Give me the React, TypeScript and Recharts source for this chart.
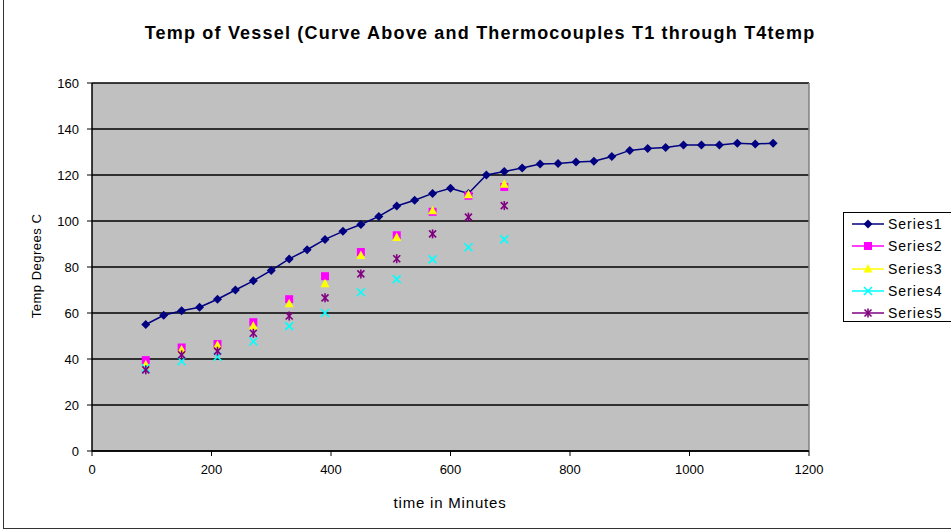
import React from 'react';
import {
  LineChart,
  Line,
  XAxis,
  YAxis,
  CartesianGrid,
  ReferenceLine,
} from 'recharts';

// minutes for the vessel curve (every 30 min)
const curveTimes = [
  90, 120, 150, 180, 210, 240, 270, 300, 330, 360, 390, 420, 450, 480, 510, 540, 570, 600,
  630, 660, 690, 720, 750, 780, 810, 840, 870, 900, 930, 960, 990, 1020, 1050, 1080, 1110, 1140,
];
const series1 = [
  55, 59, 61, 62.5, 66, 70, 74, 78.5, 83.5, 87.5, 92, 95.5, 98.5, 102, 106.5, 109, 112, 114.2,
  112, 120, 121.5, 123, 124.8, 125, 125.7, 126, 128, 130.7, 131.5, 132, 133, 133, 133, 133.8, 133.5, 133.8,
];

// thermocouple readings (every 60 min)
const tcTimes = [90, 150, 210, 270, 330, 390, 450, 510, 570, 630, 690];
const series2 = [39.5, 45, 46.5, 56, 66, 76, 86.5, 93.8, 104, 111, 114.8];
const series3 = [37.5, 44, 46, 54.3, 64, 72.7, 85, 92.8, 104.5, 111.4, 116];
const series4 = [36, 39, 41, 47.6, 54.3, 60, 69, 74.7, 83.3, 88.6, 92];
const series5 = [35.3, 41.8, 43.4, 51.2, 58.7, 66.6, 77, 83.6, 94.4, 101.7, 106.7];

const xTicks = [0, 200, 400, 600, 800, 1000, 1200];
const yTicks = [0, 20, 40, 60, 80, 100, 120, 140, 160];

const FONT = '"Liberation Sans", Arial, sans-serif';

const rows = curveTimes.map((t, i) => {
  const j = tcTimes.indexOf(t);
  return {
    x: t,
    s1: series1[i],
    s2: j >= 0 ? series2[j] : null,
    s3: j >= 0 ? series3[j] : null,
    s4: j >= 0 ? series4[j] : null,
    s5: j >= 0 ? series5[j] : null,
  };
});

type Kind = 'diamond' | 'square' | 'triangle' | 'x' | 'star';

const Marker = ({ kind, cx, cy, color }: { kind: Kind; cx: number; cy: number; color: string }) => {
  if (kind === 'diamond')
    return <polygon points={`${cx},${cy - 4.5} ${cx + 4.5},${cy} ${cx},${cy + 4.5} ${cx - 4.5},${cy}`} fill={color} />;
  if (kind === 'square') return <rect x={cx - 4} y={cy - 4} width={8} height={8} fill={color} />;
  if (kind === 'triangle')
    return <polygon points={`${cx},${cy - 5} ${cx + 4.5},${cy + 3.5} ${cx - 4.5},${cy + 3.5}`} fill={color} />;
  if (kind === 'x')
    return (
      <g stroke={color} strokeWidth={1.6}>
        <line x1={cx - 4} y1={cy - 4} x2={cx + 4} y2={cy + 4} />
        <line x1={cx - 4} y1={cy + 4} x2={cx + 4} y2={cy - 4} />
      </g>
    );
  return (
    <g stroke={color} strokeWidth={1.6}>
      <line x1={cx - 3.5} y1={cy - 3.5} x2={cx + 3.5} y2={cy + 3.5} />
      <line x1={cx - 3.5} y1={cy + 3.5} x2={cx + 3.5} y2={cy - 3.5} />
      <line x1={cx} y1={cy - 4.5} x2={cx} y2={cy + 4.5} />
    </g>
  );
};

const makeDot = (kind: Kind, color: string) => (props: any) => {
  const { cx, cy, value, index } = props;
  if (value === null || value === undefined || cy === null || cy === undefined || isNaN(cy))
    return <g key={`e-${index}`} />;
  return (
    <g key={`d-${index}`}>
      <Marker kind={kind} cx={cx} cy={cy} color={color} />
    </g>
  );
};

const legendItems: { name: string; kind: Kind; color: string }[] = [
  { name: 'Series1', kind: 'diamond', color: '#000080' },
  { name: 'Series2', kind: 'square', color: '#ff00ff' },
  { name: 'Series3', kind: 'triangle', color: '#ffff00' },
  { name: 'Series4', kind: 'x', color: '#00ffff' },
  { name: 'Series5', kind: 'star', color: '#800080' },
];

const LegendBox = () => (
  <div
    style={{
      position: 'absolute',
      left: 843,
      top: 212,
      width: 120,
      height: 110,
      border: '1px solid #000',
      background: '#fff',
      boxSizing: 'border-box',
    }}
  >
    {legendItems.map((it) => (
      <div key={it.name} style={{ height: 22.3, display: 'flex', alignItems: 'center' }}>
        <svg width={44} height={14}>
          <line x1={8} y1={7} x2={40} y2={7} stroke={it.color} strokeWidth={1.5} />
          <Marker kind={it.kind} cx={24} cy={7} color={it.color} />
        </svg>
        <span style={{ fontFamily: FONT, fontSize: 14, letterSpacing: 1, color: '#000' }}>{it.name}</span>
      </div>
    ))}
  </div>
);

export default function App() {
  return (
    <div style={{ position: 'absolute', left: 0, top: 0, width: 951, height: 531, background: '#fff', overflow: 'hidden' }}>
      {/* outer chart frame (cropped at top and right) */}
      <div
        style={{
          position: 'absolute',
          left: 3,
          top: -5,
          width: 960,
          height: 534,
          borderLeft: '1px solid #333',
          borderBottom: '1px solid #333',
          boxSizing: 'border-box',
        }}
      />
      <div
        style={{
          position: 'absolute',
          left: 480,
          top: 33,
          transform: 'translate(-50%, -50%)',
          fontFamily: FONT,
          fontWeight: 'bold',
          fontSize: 18,
          letterSpacing: 1.2,
          whiteSpace: 'nowrap',
          color: '#000',
        }}
      >
        Temp of Vessel (Curve Above and Thermocouples T1 through T4temp
      </div>
      <div
        style={{
          position: 'absolute',
          left: 36,
          top: 266,
          transform: 'translate(-50%, -50%) rotate(-90deg)',
          fontFamily: FONT,
          fontSize: 13,
          letterSpacing: 0.5,
          whiteSpace: 'nowrap',
          color: '#000',
        }}
      >
        Temp Degrees C
      </div>
      <div
        style={{
          position: 'absolute',
          left: 450,
          top: 502,
          transform: 'translate(-50%, -50%)',
          fontFamily: FONT,
          fontSize: 15,
          letterSpacing: 0.8,
          whiteSpace: 'nowrap',
          color: '#000',
        }}
      >
        time in Minutes
      </div>
      <div style={{ position: 'absolute', left: 0, top: 0 }}>
        <LineChart width={951} height={531} data={rows} margin={{ top: 83, right: 142, bottom: 50, left: 52 }}>
          <CartesianGrid horizontal vertical={false} stroke="#000" strokeWidth={1.5} fill="#c0c0c0" />
          <XAxis
            type="number"
            dataKey="x"
            domain={[0, 1200]}
            ticks={xTicks}
            height={30}
            axisLine={{ stroke: '#000', strokeWidth: 1.5 }}
            tickLine={{ stroke: '#000' }}
            tickSize={5}
            tickMargin={9}
            tick={{ fill: '#000', fontSize: 13, fontFamily: FONT }}
          />
          <YAxis
            type="number"
            domain={[0, 160]}
            ticks={yTicks}
            width={40}
            axisLine={{ stroke: '#000', strokeWidth: 1.5 }}
            tickLine={{ stroke: '#000' }}
            tickSize={5}
            tickMargin={8}
            tick={{ fill: '#000', fontSize: 13, fontFamily: FONT }}
          />
          <ReferenceLine x={1200} stroke="#808080" strokeWidth={1.5} />
          <Line
            dataKey="s1"
            stroke="#000080"
            strokeWidth={1.5}
            dot={makeDot('diamond', '#000080')}
            isAnimationActive={false}
          />
          <Line dataKey="s2" stroke="none" dot={makeDot('square', '#ff00ff')} isAnimationActive={false} />
          <Line dataKey="s3" stroke="none" dot={makeDot('triangle', '#ffff00')} isAnimationActive={false} />
          <Line dataKey="s4" stroke="none" dot={makeDot('x', '#00ffff')} isAnimationActive={false} />
          <Line dataKey="s5" stroke="none" dot={makeDot('star', '#800080')} isAnimationActive={false} />
        </LineChart>
      </div>
      <LegendBox />
    </div>
  );
}
